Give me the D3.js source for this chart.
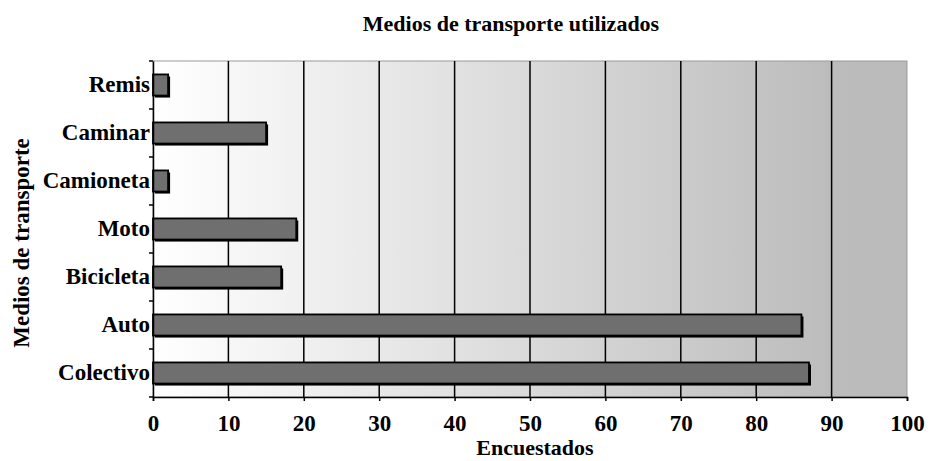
<!DOCTYPE html>
<html><head><meta charset="utf-8">
<script src="https://cdn.jsdelivr.net/npm/d3@7"></script>
<style>body{margin:0;background:#fff}</style>
</head><body>
<script>
const categories = ["Remis","Caminar","Camioneta","Moto","Bicicleta","Auto","Colectivo"];
const values = [2,15,2,19,17,86,87];
const xTicks = [0,10,20,30,40,50,60,70,80,90,100];
const title = "Medios de transporte utilizados";
const xTitle = "Encuestados";
const yTitle = "Medios de transporte";

const W=930,H=461;
const m={l:153,r:23,t:61,b:64};
const FF="'Liberation Serif','Times New Roman',serif";
const svg=d3.select("body").append("svg").attr("width",W).attr("height",H)
  .style("font-family",FF).style("font-weight","bold");

const x=d3.scaleLinear().domain([0,100]).range([m.l,W-m.r]);
const y=d3.scaleBand().domain(categories).range([m.t,H-m.b]).paddingInner(0.56).paddingOuter(0.28);

const defs=svg.append("defs");
const g=defs.append("linearGradient").attr("id","bg").attr("x1","0").attr("x2","1").attr("y1","0").attr("y2","0");
g.append("stop").attr("offset","0").attr("stop-color","#ffffff");
g.append("stop").attr("offset","0.9").attr("stop-color","#bcbcbc");
g.append("stop").attr("offset","1").attr("stop-color","#bababa");

svg.append("rect").attr("x",x(0)).attr("y",m.t).attr("width",x(100)-x(0)).attr("height",H-m.b-m.t)
  .attr("fill","url(#bg)").attr("stroke","#9a9a9a").attr("stroke-width",1);

// gridlines
svg.append("g").selectAll("line").data(xTicks.filter(d=>d>0&&d<100)).join("line")
  .attr("x1",d=>x(d)).attr("x2",d=>x(d)).attr("y1",m.t).attr("y2",H-m.b)
  .attr("stroke","#000").attr("stroke-width",1.5);

// bars shadow
svg.append("g").selectAll("rect").data(values).join("rect")
  .attr("x",x(0)+2).attr("y",(d,i)=>y(categories[i])+2)
  .attr("width",d=>x(d)-x(0)).attr("height",y.bandwidth())
  .attr("fill","#000");
svg.append("g").selectAll("rect").data(values).join("rect")
  .attr("x",x(0)).attr("y",(d,i)=>y(categories[i]))
  .attr("width",d=>x(d)-x(0)).attr("height",y.bandwidth())
  .attr("fill","#6f6f6f").attr("stroke","#000").attr("stroke-width",1.8);

// x axis
const xa=svg.append("g").attr("transform",`translate(0,${H-m.b})`)
  .call(d3.axisBottom(x).tickValues(xTicks).tickSize(4).tickPadding(14));
xa.select(".domain").attr("stroke","#000").attr("stroke-width",1.5);
xa.selectAll(".tick line").attr("stroke","#000").attr("stroke-width",1.5);
xa.selectAll("text").attr("fill","#000").style("font-size","23px").style("font-family",FF).style("font-weight","bold");

// y axis
const ya=svg.append("g").attr("transform",`translate(${m.l},0)`)
  .call(d3.axisLeft(y).tickSize(0).tickPadding(3));
ya.select(".domain").attr("stroke","#000").attr("stroke-width",1.5);
ya.selectAll("text").attr("fill","#000").style("font-size","23px").style("font-family",FF).style("font-weight","bold");
// small ticks at band boundaries
const step=y.step();
const bounds=categories.map((c,i)=>y(c)-y.paddingInner()*step/2).slice(1).concat([H-m.b, m.t]);
svg.append("g").selectAll("line").data(bounds).join("line")
  .attr("x1",m.l-4).attr("x2",m.l).attr("y1",d=>d).attr("y2",d=>d)
  .attr("stroke","#000").attr("stroke-width",1.5);

svg.append("text").attr("x",(x(0)+x(100))/2-19).attr("y",31).attr("text-anchor","middle")
  .style("font-size","22px").text(title);
svg.append("text").attr("x",(x(0)+x(100))/2+5).attr("y",455).attr("text-anchor","middle")
  .style("font-size","22px").text(xTitle);
svg.append("text").attr("transform",`translate(29,${(m.t+H-m.b)/2+14}) rotate(-90)`).attr("text-anchor","middle")
  .style("font-size","23px").text(yTitle);
</script>
</body></html>
